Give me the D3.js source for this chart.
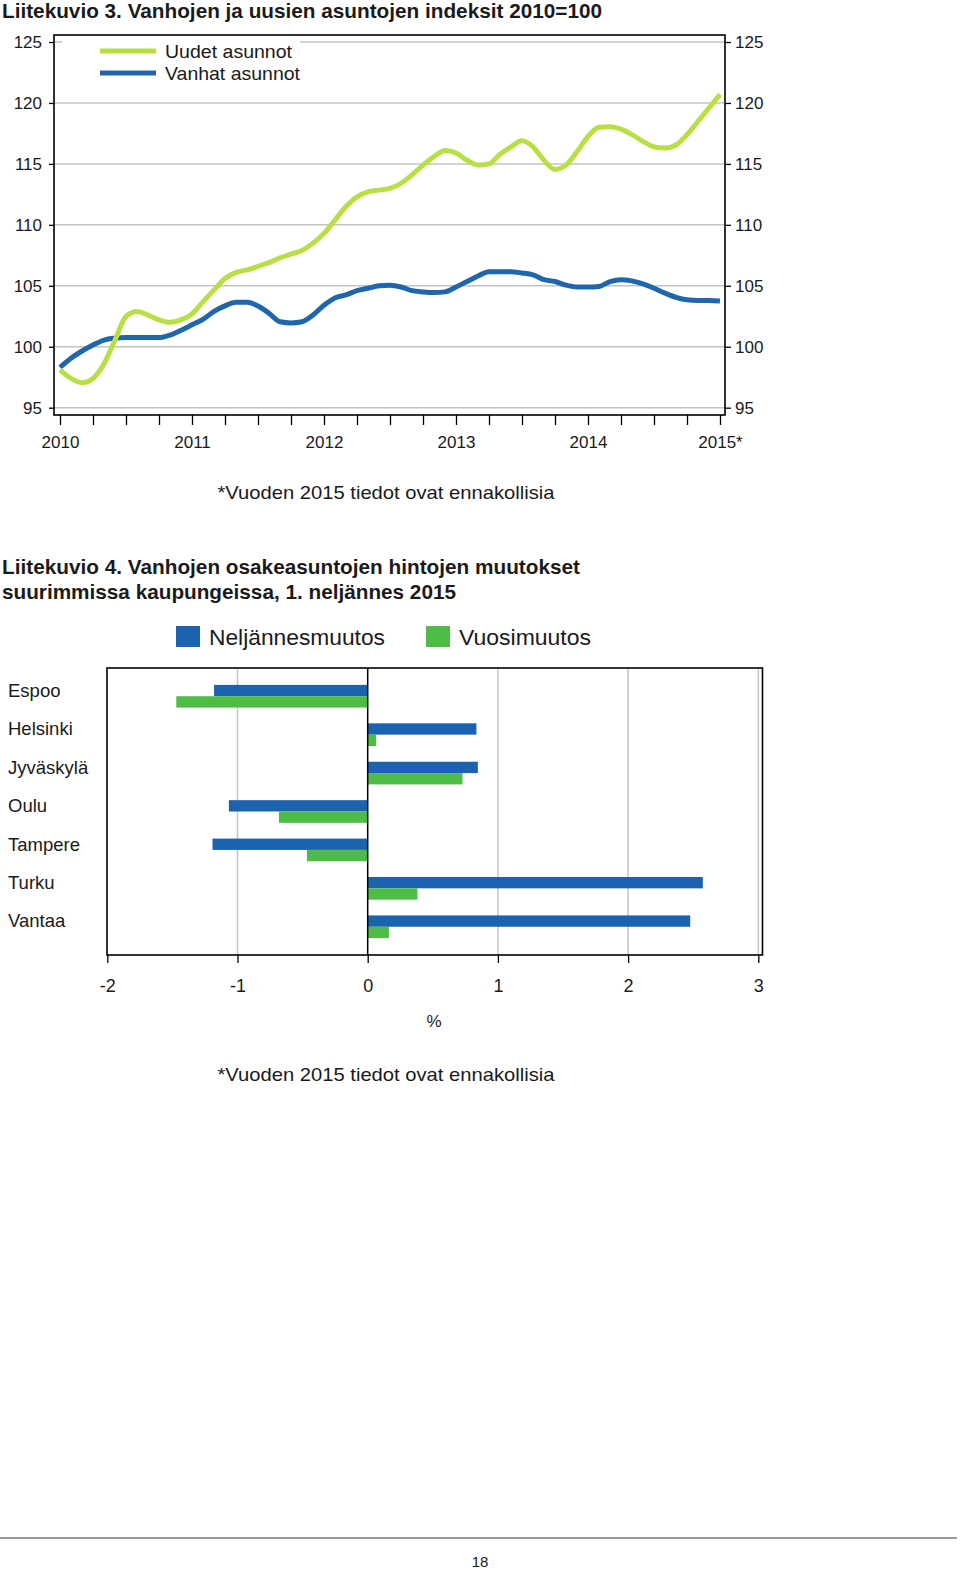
<!DOCTYPE html>
<html><head><meta charset="utf-8">
<script src="https://cdn.jsdelivr.net/npm/d3@7/dist/d3.min.js"></script>
<style>
body{margin:0;background:#fff}
svg{display:block}
text{font-family:"Liberation Sans",Arial,sans-serif;fill:#1a1a1a}
</style>
</head><body>
<svg id="c" width="960" height="1572"></svg>
<script>
// ---------- Chart 1 data (monthly, Jan 2010 .. Jan 2015) ----------
const yearLabels = ["2010", "2011", "2012", "2013", "2014", "2015*"];
const yTicks = [95, 100, 105, 110, 115, 120, 125];
const uudet = [98.1, 97.4, 97.05, 97.4, 98.6, 100.55, 102.5, 102.9, 102.6, 102.2, 102.0, 102.2,
  102.7, 103.7, 104.65, 105.6, 106.1, 106.3, 106.6, 106.9, 107.3, 107.6, 107.9, 108.5,
  109.3, 110.4, 111.5, 112.3, 112.7, 112.85, 113.0, 113.4, 114.1, 114.9, 115.6, 116.1,
  115.9, 115.3, 114.9, 115.0, 115.8, 116.4, 116.9, 116.4, 115.3, 114.55, 114.9, 116.0,
  117.25, 118.0, 118.05, 117.85, 117.4, 116.85, 116.4, 116.3, 116.55, 117.4, 118.5, 119.6,
  120.7];
const vanhat = [98.3, 99.05, 99.65, 100.15, 100.55, 100.7, 100.75, 100.75, 100.75, 100.75, 100.95, 101.35,
  101.8, 102.25, 102.9, 103.35, 103.65, 103.65, 103.35, 102.75, 102.05, 101.95, 102.05, 102.6,
  103.4, 104.0, 104.25, 104.6, 104.8, 105.0, 105.05, 104.9, 104.6, 104.5, 104.45, 104.5,
  104.9, 105.35, 105.8, 106.15, 106.15, 106.15, 106.05, 105.9, 105.5, 105.35, 105.05, 104.9,
  104.9, 104.95, 105.35, 105.5, 105.4, 105.15, 104.8, 104.4, 104.05, 103.85, 103.8, 103.8,
  103.75];
const seriesNames = ["Uudet asunnot", "Vanhat asunnot"];

// ---------- Chart 2 data ----------
const cities = ["Espoo", "Helsinki", "Jyväskylä", "Oulu", "Tampere", "Turku", "Vantaa"];
const neljannesmuutos = [-1.18, 0.835, 0.846, -1.066, -1.192, 2.574, 2.477];
const vuosimuutos = [-1.47, 0.065, 0.728, -0.682, -0.467, 0.382, 0.163];
const barSeries = ["Neljännesmuutos", "Vuosimuutos"];
const xTicks2 = [-2, -1, 0, 1, 2, 3];

const GREEN_LINE = "#b8e045", BLUE_LINE = "#1f66ad";
const BAR_BLUE = "#1b63ae", BAR_GREEN = "#4dbd45";
const FONT = "\"Liberation Sans\",Arial,sans-serif";

const svg = d3.select("#c");

// ================= Chart 1 =================
svg.append("text").attr("x", 2).attr("y", 18).attr("font-size", 20.5).attr("font-weight", "bold")
  .attr("fill", "#000").attr("textLength", 600).attr("lengthAdjust", "spacingAndGlyphs")
  .text("Liitekuvio 3. Vanhojen ja uusien asuntojen indeksit 2010=100");

const x1 = d3.scaleLinear().domain([-6 / 11, 60 + 5 / 11]).range([54, 725]);
const y1 = d3.scaleLinear().domain([94.4, 125.575]).range([415, 35]);
const g1 = svg.append("g");

g1.selectAll("line.grid").data(yTicks).join("line")
  .attr("x1", 54).attr("x2", 725).attr("y1", d => y1(d)).attr("y2", d => y1(d))
  .attr("stroke", "#c4c4c4").attr("stroke-width", 1.5);

// legend background
g1.append("rect").attr("x", 62).attr("y", 36).attr("width", 238).attr("height", 48).attr("fill", "#fff");

const line = d3.line().x((d, i) => x1(i)).y(d => y1(d)).curve(d3.curveMonotoneX);
g1.append("path").datum(vanhat).attr("d", line).attr("fill", "none")
  .attr("stroke", BLUE_LINE).attr("stroke-width", 5).attr("stroke-linejoin", "round");
g1.append("path").datum(uudet).attr("d", line).attr("fill", "none")
  .attr("stroke", GREEN_LINE).attr("stroke-width", 5).attr("stroke-linejoin", "round");

// legend
const legW = [127, 135];
const leg1 = g1.selectAll("g.leg").data(seriesNames).join("g")
  .attr("transform", (d, i) => `translate(0,${51 + i * 22})`);
leg1.append("line").attr("x1", 100).attr("x2", 156)
  .attr("stroke", (d, i) => i === 0 ? GREEN_LINE : BLUE_LINE).attr("stroke-width", 5);
leg1.append("text").attr("x", 165).attr("dy", "0.36em").attr("font-size", 19).attr("fill", "#222")
  .attr("textLength", (d, i) => legW[i]).attr("lengthAdjust", "spacingAndGlyphs").text(d => d);

// axes
const fmt = d => String(d);
const left = g1.append("g").attr("transform", "translate(54,0)")
  .call(d3.axisLeft(y1).tickValues(yTicks).tickSize(5).tickPadding(7).tickFormat(fmt));
const right = g1.append("g").attr("transform", "translate(725,0)")
  .call(d3.axisRight(y1).tickValues(yTicks).tickSize(6).tickPadding(4).tickFormat(fmt));
const quarterTicks = d3.range(0, 61, 3);
const bottom = g1.append("g").attr("transform", "translate(0,415)")
  .call(d3.axisBottom(x1).tickValues(quarterTicks).tickSize(10).tickPadding(11)
    .tickFormat(d => d % 12 === 0 ? yearLabels[d / 12] : ""));
[left, right, bottom].forEach(a => {
  a.select(".domain").remove();
  a.selectAll(".tick line").attr("stroke", "#000").attr("stroke-width", 1.3);
  a.selectAll("text").attr("font-size", 17).attr("fill", "#222").attr("font-family", FONT);
});

g1.append("rect").attr("x", 54).attr("y", 35).attr("width", 671).attr("height", 380)
  .attr("fill", "none").attr("stroke", "#000").attr("stroke-width", 1.6);

svg.append("text").attr("x", 386).attr("y", 499).attr("text-anchor", "middle").attr("font-size", 19)
  .attr("fill", "#222").attr("textLength", 337).attr("lengthAdjust", "spacingAndGlyphs")
  .text("*Vuoden 2015 tiedot ovat ennakollisia");

// ================= Chart 2 =================
svg.append("text").attr("x", 2).attr("y", 574).attr("font-size", 20.5).attr("font-weight", "bold")
  .attr("fill", "#000").attr("textLength", 578).attr("lengthAdjust", "spacingAndGlyphs")
  .text("Liitekuvio 4. Vanhojen osakeasuntojen hintojen muutokset");
svg.append("text").attr("x", 2).attr("y", 599).attr("font-size", 20.5).attr("font-weight", "bold")
  .attr("fill", "#000").attr("textLength", 454).attr("lengthAdjust", "spacingAndGlyphs")
  .text("suurimmissa kaupungeissa, 1. neljännes 2015");

const x2 = d3.scaleLinear().domain([-2, 3]).range([107.3, 758.3]);
const y2 = d3.scaleBand().domain(cities).range([668, 955]).paddingInner(0.41).paddingOuter(0.44);
const ySub = d3.scaleBand().domain(barSeries).range([0, y2.bandwidth()]);
const g2 = svg.append("g");

// legend
const leg2W = [176, 132];
const leg2 = g2.selectAll("g.leg2").data(barSeries).join("g")
  .attr("transform", (d, i) => `translate(${i === 0 ? 176 : 426},626)`);
leg2.append("rect").attr("width", 24).attr("height", 21).attr("fill", (d, i) => i === 0 ? BAR_BLUE : BAR_GREEN);
leg2.append("text").attr("x", 33).attr("y", 11).attr("dy", "0.36em").attr("font-size", 22).attr("fill", "#333")
  .attr("textLength", (d, i) => leg2W[i]).attr("lengthAdjust", "spacingAndGlyphs").text(d => d);

// gridlines
g2.selectAll("line.g2").data(xTicks2.filter(d => d !== 0 && d !== -2)).join("line")
  .attr("x1", d => x2(d)).attr("x2", d => x2(d)).attr("y1", 668).attr("y2", 955)
  .attr("stroke", "#c4c4c4").attr("stroke-width", 1.5);

// bars
const rows = cities.map((c, i) => ({ c, vals: [neljannesmuutos[i], vuosimuutos[i]] }));
const rg = g2.selectAll("g.row").data(rows).join("g").attr("transform", d => `translate(0,${y2(d.c)})`);
rg.selectAll("rect").data(d => d.vals.map((v, k) => ({ v, s: barSeries[k] }))).join("rect")
  .attr("x", d => x2(Math.min(0, d.v))).attr("width", d => Math.abs(x2(d.v) - x2(0)))
  .attr("y", d => ySub(d.s)).attr("height", ySub.bandwidth())
  .attr("fill", d => d.s === barSeries[0] ? BAR_BLUE : BAR_GREEN);

// zero line
g2.append("line").attr("x1", x2(0)).attr("x2", x2(0)).attr("y1", 668).attr("y2", 955)
  .attr("stroke", "#000").attr("stroke-width", 1.5);

// category labels
g2.selectAll("text.cat").data(cities).join("text")
  .attr("x", 8).attr("y", d => y2(d) + y2.bandwidth() / 2 - 6).attr("dy", "0.36em")
  .attr("font-size", 18.5).attr("fill", "#222").text(d => d);

// frame
g2.append("rect").attr("x", 107).attr("y", 668).attr("width", 655.5).attr("height", 287)
  .attr("fill", "none").attr("stroke", "#000").attr("stroke-width", 1.6);

// x axis
const ax2 = g2.append("g").attr("transform", "translate(0,955)")
  .call(d3.axisBottom(x2).tickValues(xTicks2).tickSize(8).tickPadding(16).tickFormat(fmt));
ax2.select(".domain").remove();
ax2.selectAll(".tick line").attr("stroke", "#000").attr("stroke-width", 1.3);
ax2.selectAll("text").attr("font-size", 18).attr("fill", "#333").attr("font-family", FONT);

svg.append("text").attr("x", 434).attr("y", 1027).attr("text-anchor", "middle").attr("font-size", 17)
  .attr("fill", "#333").text("%");
svg.append("text").attr("x", 386).attr("y", 1081).attr("text-anchor", "middle").attr("font-size", 19)
  .attr("fill", "#222").attr("textLength", 337).attr("lengthAdjust", "spacingAndGlyphs")
  .text("*Vuoden 2015 tiedot ovat ennakollisia");

// footer
svg.append("line").attr("x1", 0).attr("x2", 957).attr("y1", 1538).attr("y2", 1538)
  .attr("stroke", "#999").attr("stroke-width", 2);
svg.append("text").attr("x", 480).attr("y", 1567).attr("text-anchor", "middle").attr("font-size", 15)
  .attr("fill", "#000").text("18");
</script>
</body></html>
